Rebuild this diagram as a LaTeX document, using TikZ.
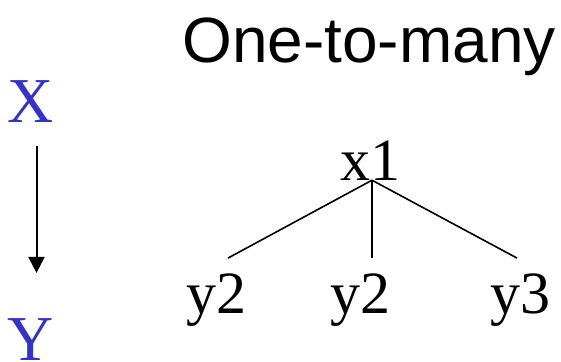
\documentclass[tikz,border=0pt]{standalone}
\usepackage{fontspec}
\setmainfont{Liberation Serif}
\setsansfont{Liberation Sans}
\usetikzlibrary{arrows.meta}
\definecolor{varblue}{RGB}{51,51,204}
\begin{document}
\begin{tikzpicture}[x=1pt,y=-1pt,
  var/.style={inner sep=0pt,anchor=base,text=varblue,font=\fontsize{64}{64}\selectfont},
  val/.style={inner sep=0pt,anchor=base,font=\fontsize{60}{60}\selectfont}]
  \useasboundingbox (0,0) rectangle (561,361);
  \node[inner sep=0pt,anchor=base,font=\sffamily\fontsize{64}{64}\selectfont] (title) at (369,62) {One-to-many};
  \node[var] (X) at (30.5,122) {X};
  \node[var] (Y) at (30.5,360) {Y};
  \draw[line width=2pt,-{Triangle[length=16pt,width=16pt]}]
    ([shift={(6pt,-24pt)}]X.south) -- ([shift={(6pt,45pt)}]Y.north);
  \node[val] (x1) at (370,180) {x1};
  \node[val] (ya) at (216,313) {y2};
  \node[val] (yb) at (360,313) {y2};
  \node[val] (yc) at (520,313) {y3};
  \draw[line width=1.6pt] ([xshift=2pt]x1.south) -- ([shift={(12pt,15pt)}]ya.north);
  \draw[line width=1.6pt] ([xshift=2pt]x1.south) -- ([shift={(12pt,15pt)}]yb.north);
  \draw[line width=1.6pt] ([xshift=2pt]x1.south) -- ([shift={(-3pt,15pt)}]yc.north);
\end{tikzpicture}
\end{document}
